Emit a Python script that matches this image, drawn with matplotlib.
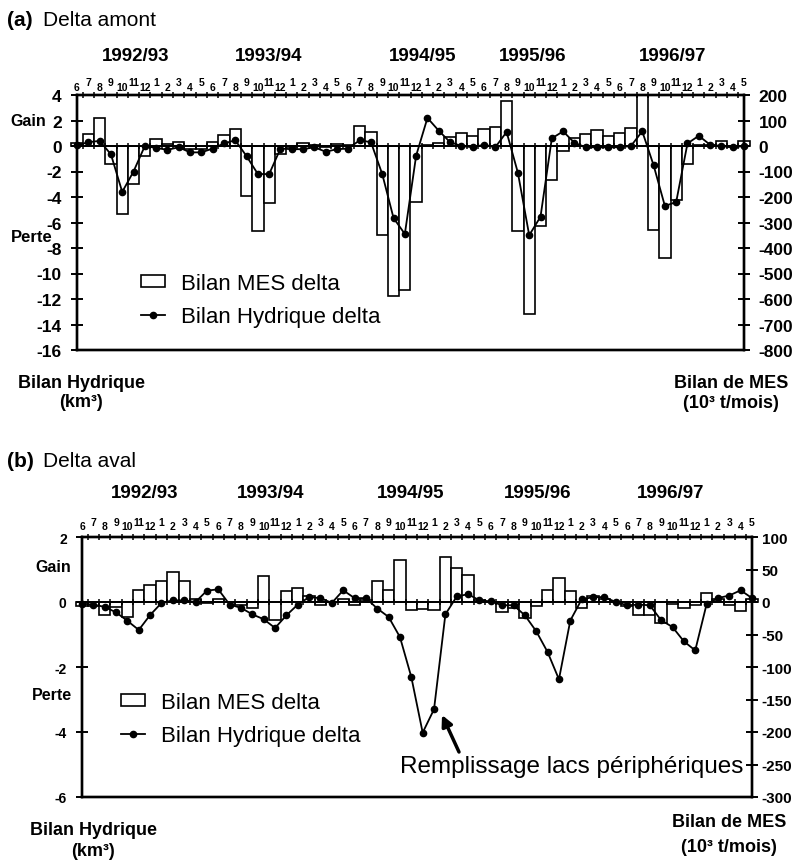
import matplotlib
matplotlib.use('Agg')
import matplotlib.pyplot as plt
import numpy as np
from matplotlib.patches import Patch
from matplotlib.lines import Line2D
from matplotlib.transforms import blended_transform_factory, offset_copy

plt.rcParams['font.family'] = ['Liberation Sans', 'DejaVu Sans']
plt.rcParams['axes.unicode_minus'] = False

# ---------------- data ----------------
months = [6, 7, 8, 9, 10, 11, 12, 1, 2, 3, 4, 5] * 5
years = ['1992/93', '1993/94', '1994/95', '1995/96', '1996/97']

# (a) Delta amont
hyd_a = [0.05, 0.3, 0.4, -0.65, -3.6, -2.0, 0.0, -0.15, -0.3, -0.1, -0.5, -0.5,
         -0.2, 0.2, 0.45, -0.8, -2.2, -2.2, -0.2, -0.25, -0.25, -0.1, -0.45, -0.25,
         -0.2, 0.45, 0.3, -2.2, -5.65, -6.9, -0.75, 2.2, 1.2, 0.3, 0.0, -0.1,
         0.1, -0.1, 1.1, -2.1, -7.0, -5.55, 0.6, 1.15, 0.25, -0.1, -0.1, -0.1,
         -0.1, 0.0, 1.15, -1.5, -4.7, -4.4, 0.2, 0.8, 0.1, 0.0, -0.1, 0.0]
mes_a = [10, 46, 110, -69, -266, -148, -40, 26, 9, 15, -10, -10,
         15, 42, 68, -197, -333, -224, -30, -5, 10, 5, -5, 8,
         5, 78, 53, -350, -590, -565, -220, 3, 13, 36, 51, 38,
         65, 75, 176, -335, -660, -314, -135, -20, 33, 48, 63, 38,
         50, 71, 200, -331, -438, -213, -70, 5, 5, 20, -3, 20]

# (b) Delta aval
hyd_b = [-0.05, -0.08, -0.15, -0.32, -0.58, -0.86, -0.4, -0.03, 0.05, 0.05, 0.0, 0.35,
         0.39, -0.08, -0.18, -0.38, -0.53, -0.8, -0.41, -0.08, 0.15, 0.12, -0.03, 0.36,
         0.12, 0.12, -0.2, -0.46, -1.08, -2.31, -4.02, -3.3, -0.38, 0.17, 0.24, 0.05,
         0.02, -0.1, -0.1, -0.41, -0.9, -1.54, -2.38, -0.57, 0.08, 0.15, 0.15, 0.0,
         -0.1, -0.08, -0.1, -0.56, -0.77, -1.21, -1.49, -0.07, 0.12, 0.2, 0.36, 0.12]
mes_b = [-6, -6, -20, -8, -23, 18, 26, 33, 46, 32, 5, -2,
         5, 0, -5, -9, 40, -27, 17, 21, 9, -5, 0, 4,
         -5, 3, 32, 18, 64, -13, -10, -13, 70, 52, 42, 3,
         0, -16, -9, -25, -6, 19, 37, 17, -9, 9, 5, 0,
         -6, -20, -20, -32, -3, -9, -5, 14, 5, -4, -14, 4]

W, H = 795, 862
fig = plt.figure(figsize=(W / 100, H / 100), dpi=100)


def fx(px):
    return px / W


def fy(py):
    return 1 - py / H


def draw_panel(rect, hyd, mes, ylim, yticks, rlim, rticks, tick_fs, rtick_fs,
               lpad, rpad, even_off, odd_off, year_pos, year_off):
    ax = fig.add_axes(rect)
    axr = ax.twinx()
    ax.set_zorder(axr.get_zorder() + 1)
    ax.patch.set_visible(False)
    x = np.arange(len(months))
    axr.bar(x, mes, width=1.0, color='white', edgecolor='black', linewidth=1.2,
            clip_on=False)
    ax.plot(x, hyd, color='black', lw=1.3, marker='o', ms=4.5, clip_on=False)
    ax.set_xlim(0, len(months) - 1)
    ax.set_ylim(*ylim)
    axr.set_ylim(*rlim)
    ax.set_yticks(yticks)
    axr.set_yticks(rticks)
    ax.tick_params(axis='y', direction='inout', length=8, width=1.4,
                   labelsize=tick_fs, pad=lpad)
    axr.tick_params(axis='y', direction='inout', length=8, width=1.4,
                    labelsize=rtick_fs, pad=rpad)
    for lab in ax.get_yticklabels() + axr.get_yticklabels():
        lab.set_fontweight('bold')
    for a in (ax, axr):
        for s in a.spines.values():
            s.set_linewidth(1.7)
    # top axis ticks at month boundaries
    ax.xaxis.tick_top()
    ax.set_xticks(x[:-1] + 0.5)
    ax.tick_params(axis='x', direction='inout', length=5, width=1.1,
                   labeltop=False, labelbottom=False)
    # zero line with ticks
    frac = (0 - ylim[0]) / (ylim[1] - ylim[0])
    sec = ax.secondary_xaxis(frac)
    sec.set_xticks(x[:-1] + 0.5)
    sec.tick_params(direction='inout', length=5, width=1.1,
                    labeltop=False, labelbottom=False)
    for s in sec.spines.values():
        s.set_linewidth(1.4)
    # month labels
    tr = blended_transform_factory(ax.transData, ax.transAxes)
    for i, m in enumerate(months):
        off = odd_off if m % 2 == 1 else even_off
        t = offset_copy(tr, fig=fig, x=0, y=off, units='points')
        ax.text(i, 1.0, str(m), transform=t, ha='center', va='center',
                fontsize=7.5, fontweight='bold')
    # year labels
    ty = offset_copy(tr, fig=fig, x=0, y=year_off, units='points')
    for xp, yl in zip(year_pos, years):
        ax.text(xp, 1.0, yl, transform=ty, ha='center', va='center',
                fontsize=13.5, fontweight='bold')
    return ax, axr


# ---------------- panel (a) ----------------
axa, axar = draw_panel([fx(77), fy(351), 667 / W, 255 / H], hyd_a, mes_a,
                       (-16, 4), np.arange(-16, 5, 2),
                       (-800, 200), np.arange(-800, 201, 100),
                       12.5, 12.5, 7, 6.5, 6.0, 9.7,
                       [5.16, 16.93, 30.6, 40.3, 52.7], 28.3)

fig.text(fx(7), fy(20), '(a)', fontsize=15, fontweight='bold', va='center')
fig.text(fx(43), fy(20), 'Delta amont', fontsize=15, va='center')
fig.text(fx(10), fy(122), 'Gain', fontsize=11.5, fontweight='bold', va='center')
fig.text(fx(11), fy(238), 'Perte', fontsize=12, fontweight='bold', va='center')
fig.text(fx(81), fy(384), 'Bilan Hydrique', fontsize=13, fontweight='bold',
         ha='center', va='center')
fig.text(fx(81), fy(403), '(km³)', fontsize=13, fontweight='bold',
         ha='center', va='center')
fig.text(fx(731), fy(384), 'Bilan de MES', fontsize=13, fontweight='bold',
         ha='center', va='center')
fig.text(fx(731), fy(404), '(10³ t/mois)', fontsize=13, fontweight='bold',
         ha='center', va='center')

handles = [Patch(facecolor='white', edgecolor='black', linewidth=1.2),
           Line2D([], [], color='black', lw=1.3, marker='o', ms=4.5)]
labels = ['Bilan MES delta', 'Bilan Hydrique delta']

axa.legend(handles, labels, loc='upper left', bbox_to_anchor=(fx(141), fy(274)),
           bbox_transform=fig.transFigure, frameon=False, fontsize=16,
           borderpad=0, borderaxespad=0, handlelength=1.1, handleheight=0.45,
           handletextpad=0.7, labelspacing=0.55)

# ---------------- panel (b) ----------------
axb, axbr = draw_panel([fx(82), fy(798), 670 / W, 260 / H], hyd_b, mes_b,
                       (-6, 2), np.arange(-6, 3, 2),
                       (-300, 100), np.arange(-300, 101, 50),
                       10, 11, 7, 3, 7.7, 10.6,
                       [5.48, 16.6, 28.9, 40.1, 51.8], 32.4)

fig.text(fx(7), fy(462), '(b)', fontsize=15, fontweight='bold', va='center')
fig.text(fx(43), fy(462), 'Delta aval', fontsize=15, va='center')
fig.text(fx(35), fy(567), 'Gain', fontsize=11.5, fontweight='bold', va='center')
fig.text(fx(32), fy(695), 'Perte', fontsize=11.5, fontweight='bold', va='center')
fig.text(fx(93), fy(831), 'Bilan Hydrique', fontsize=13, fontweight='bold',
         ha='center', va='center')
fig.text(fx(93), fy(852), '(km³)', fontsize=13, fontweight='bold',
         ha='center', va='center')
fig.text(fx(729), fy(823), 'Bilan de MES', fontsize=13, fontweight='bold',
         ha='center', va='center')
fig.text(fx(729), fy(848), '(10³ t/mois)', fontsize=13, fontweight='bold',
         ha='center', va='center')

axb.legend(handles, labels, loc='upper left', bbox_to_anchor=(fx(121), fy(693)),
           bbox_transform=fig.transFigure, frameon=False, fontsize=16,
           borderpad=0, borderaxespad=0, handlelength=1.1, handleheight=0.45,
           handletextpad=0.7, labelspacing=0.55)

fig.text(fx(400), fy(767), 'Remplissage lacs périphériques', fontsize=17.5,
         va='center', ha='left')
axb.annotate('', xy=(442, H - 716), xycoords='figure pixels',
             xytext=(459, H - 753), textcoords='figure pixels',
             arrowprops=dict(arrowstyle='-|>', lw=2.5, color='black',
                             mutation_scale=16, shrinkA=0, shrinkB=0))

fig.savefig('out.png', dpi=100)
